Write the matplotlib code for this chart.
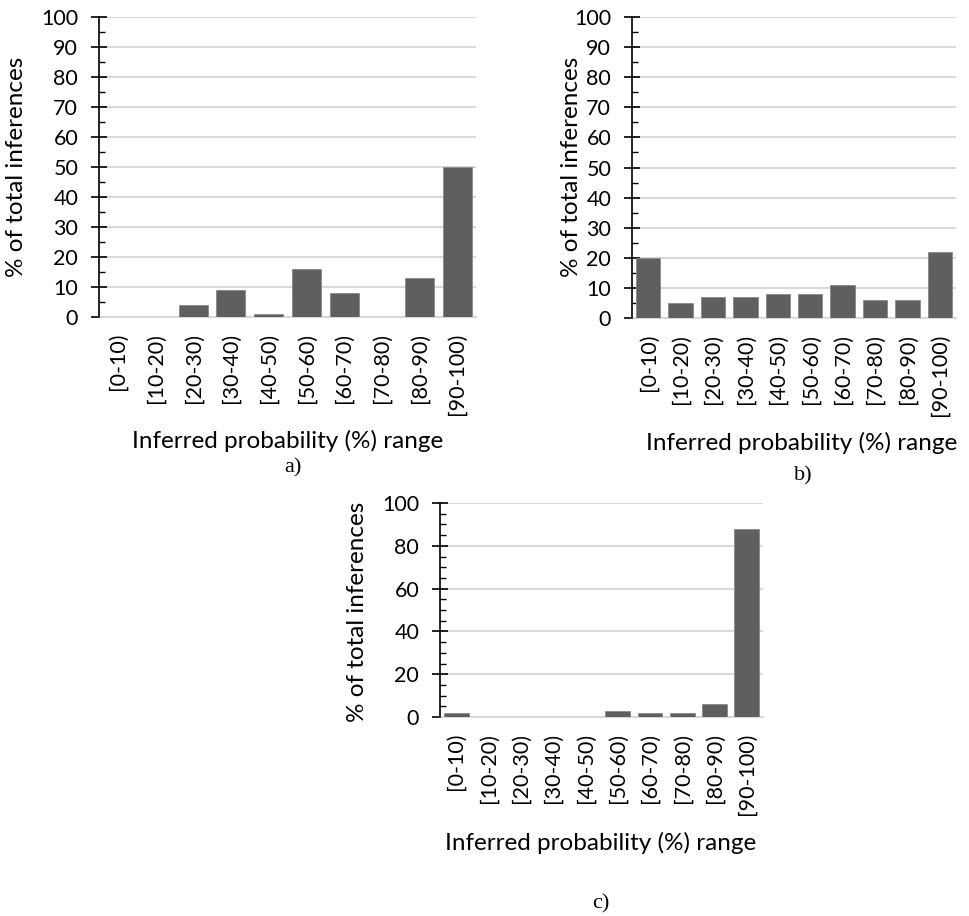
import matplotlib
matplotlib.use("Agg")
import matplotlib.pyplot as plt
from matplotlib.ticker import MultipleLocator

categories = ["[0-10)", "[10-20)", "[20-30)", "[30-40)", "[40-50)",
              "[50-60)", "[60-70)", "[70-80)", "[80-90)", "[90-100)"]
values_a = [0, 0, 4, 9, 1, 16, 8, 0, 13, 50]
values_b = [20, 5, 7, 7, 8, 8, 11, 6, 6, 22]
values_c = [2, 0, 0, 0, 0, 3, 2, 2, 6, 88]
ylabel_text = "% of total inferences"
xlabel_text = "Inferred probability (%) range"

W, H = 969, 916
fig = plt.figure(figsize=(W / 100, H / 100), dpi=100)

FONT = "Lato"
BAR = "#5f5f5f"
GRID = "#d9d9d9"
TICK_FS = 15.5
LABEL_FS = 17.5


def px_axes(l, t, r, b):
    return fig.add_axes([l / W, 1 - b / H, (r - l) / W, (b - t) / H])


def draw(ax, vals, major, minor, barw):
    x = list(range(len(categories)))
    ax.bar(x, vals, width=barw, color=BAR, edgecolor="#8a8a8a", linewidth=0.6, zorder=3)
    ax.set_xlim(-0.5, len(categories) - 0.5)
    ax.set_ylim(0, 100)
    ax.yaxis.set_major_locator(MultipleLocator(major))
    ax.yaxis.set_minor_locator(MultipleLocator(minor))
    ax.grid(axis="y", which="major", color=GRID, linewidth=1.5, zorder=0)
    ax.set_xticks(x)
    ax.set_xticklabels(categories, rotation=90, fontsize=TICK_FS, family=FONT)
    ax.tick_params(axis="x", length=0, pad=11.5)
    ax.tick_params(axis="y", which="major", direction="inout", length=11, width=1.2,
                   labelsize=TICK_FS, pad=9.5)
    ax.tick_params(axis="y", which="minor", direction="in", length=4.3, width=1.0)
    for lab in ax.get_yticklabels():
        lab.set_family(FONT)
    for s in ["top", "right"]:
        ax.spines[s].set_visible(False)
    ax.spines["bottom"].set_color(GRID)
    ax.spines["bottom"].set_linewidth(1.5)
    ax.spines["left"].set_color("black")
    ax.spines["left"].set_linewidth(1.2)
    ax.spines["left"].set_zorder(4)


def fx(px):
    return px / W


def fy(py):
    return 1 - py / H


ax_a = px_axes(99, 17, 476, 317)
draw(ax_a, values_a, 10, 5, 0.77)
ax_b = px_axes(632, 17, 956, 318)
draw(ax_b, values_b, 10, 5, 0.75)
ax_c = px_axes(440, 503, 763, 717)
draw(ax_c, values_c, 20, 5, 0.77)

# axis titles
for cx, cy in [(17, 167), (572, 167), (357, 612)]:
    fig.text(fx(cx), fy(cy), ylabel_text, rotation=90, ha="center", va="center",
             fontsize=LABEL_FS, family=FONT)
for cx, by in [(288, 448), (802, 450), (601, 850)]:
    fig.text(fx(cx), fy(by), xlabel_text, ha="center", va="baseline",
             fontsize=LABEL_FS, family=FONT)

# captions
for cx, by, t in [(293, 472, "a)"), (803, 480, "b)"), (601, 908, "c)")]:
    fig.text(fx(cx), fy(by), t, ha="center", va="baseline", fontsize=16,
             family="Liberation Serif")

fig.savefig("out.png", dpi=100, facecolor="white")
